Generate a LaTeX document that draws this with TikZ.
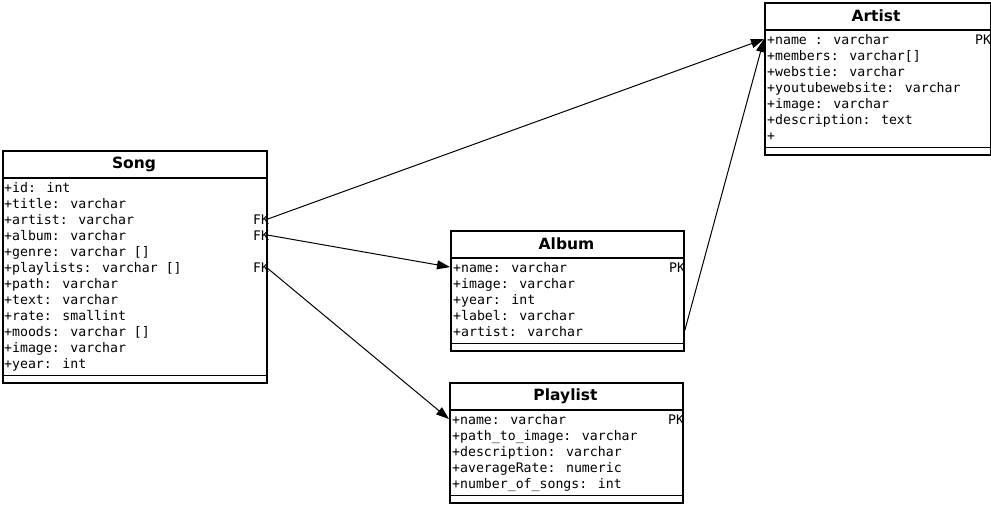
\documentclass[tikz,border=0pt]{standalone}
\usepackage{fontspec}
\newfontfamily\fieldfont{DejaVu Sans Mono}
\newfontfamily\headfont{DejaVu Sans}
\usetikzlibrary{arrows.meta}
\tikzset{
  tbl/.style={draw, line width=1.6pt, anchor=north west, inner sep=0},
  head/.style={font=\headfont\bfseries\fontsize{15.5}{18}\selectfont},
  field/.style={font=\fieldfont\fontsize{13.2}{16}\selectfont, anchor=base west, inner sep=0},
  fk/.style={line width=1pt, -{Triangle[length=13pt,width=9pt]}}
}

\begin{document}
\begin{tikzpicture}[x=1pt, y=-1pt]
\useasboundingbox (0,0) rectangle (991,504);
% tables
\node[tbl, minimum width=264, minimum height=232] (song) at (2,150) {};
\node[tbl, minimum width=226, minimum height=152] (artist) at (764,2) {};
\node[tbl, minimum width=233, minimum height=120] (album) at (450,230) {};
\node[tbl, minimum width=233, minimum height=120] (playlist) at (449,382) {};
\foreach \t in {song, artist, album, playlist} {
  \draw[line width=1.6pt] ([yshift=-28pt]\t.north west) -- ([yshift=-28pt]\t.north east);
  \draw[line width=1.6pt] ([yshift=8pt]\t.south west) -- ([yshift=8pt]\t.south east);
}
\node[head] (song-h) at (134,164) {Song};
\node[head] (artist-h) at (876,16) {Artist};
\node[head] (album-h) at (566.5,244) {Album};
\node[head] (playlist-h) at (565.5,396) {Playlist};
% fields
\foreach \f [count=\i] in {+id: int, +title: varchar, +artist: varchar, +album: varchar,
    +genre: varchar [], +playlists: varchar [], +path: varchar, +text: varchar,
    +rate: smallint, +moods: varchar [], +image: varchar, +year: int}
  \node[field] (song-\i) at (4,176+16*\i) {\f};
\foreach \f [count=\i] in {+name : varchar, +members: varchar[], +webstie: varchar,
    +youtubewebsite: varchar, +image: varchar, +description: text, +}
  \node[field] (artist-\i) at (767,28+16*\i) {\f};
\foreach \f [count=\i] in {+name: varchar, +image: varchar, +year: int,
    +label: varchar, +artist: varchar}
  \node[field] (album-\i) at (453,256+16*\i) {\f};
\foreach \f [count=\i] in {+name: varchar, +path\_to\_image: varchar, +description: varchar,
    +averageRate: numeric, +number\_of\_songs: int}
  \node[field] (playlist-\i) at (452,408+16*\i) {\f};
% keys
\foreach \i in {3,4,6}
  \node[field] (song-k\i) at (253,176+16*\i) {FK};
\node[field] (artist-k) at (975,44) {PK};
\node[field] (album-k) at (669,272) {PK};
\node[field] (playlist-k) at (668,424) {PK};
% links
\draw[fk] (song.east |- song-3) -- (artist.west |- artist-1);
\draw[fk] (song.east |- song-4) -- (album.west |- album-1);
\draw[fk] (song.east |- song-6) -- (playlist.west |- playlist-1);
\draw[fk] (album.east |- album-5) -- (artist.west |- artist-1);
\end{tikzpicture}
\end{document}
